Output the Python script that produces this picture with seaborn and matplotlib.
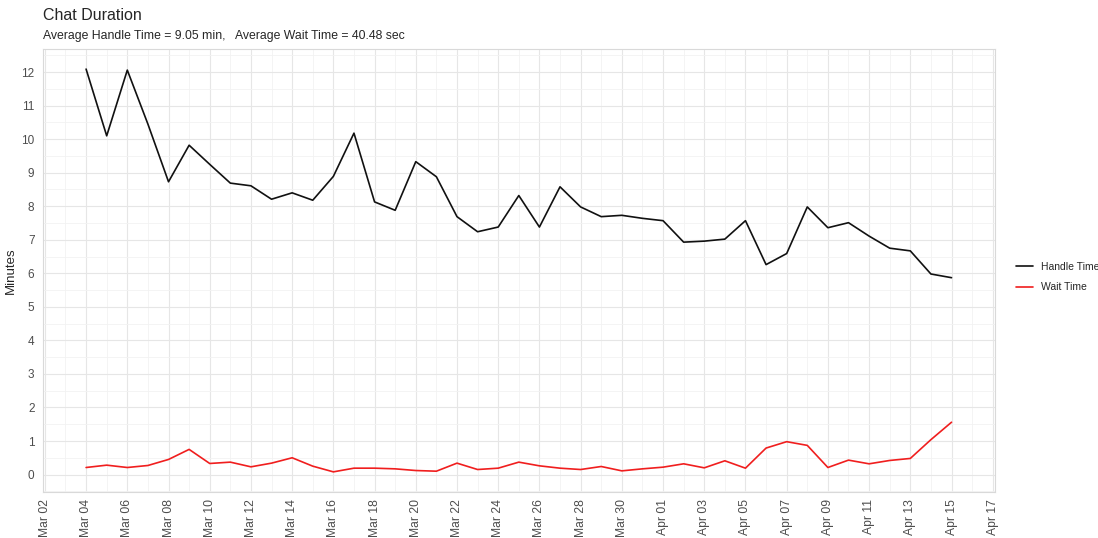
import numpy as np
import pandas as pd
import matplotlib
matplotlib.use("Agg")
import matplotlib.pyplot as plt
import matplotlib.dates as mdates
import seaborn as sns

# daily values, Mar 04 .. Apr 15
dates = pd.date_range("2019-03-04", "2019-04-15", freq="D")

handle_time = [12.09, 10.10, 12.06, 10.45, 8.73, 9.82, 9.25, 8.69, 8.61, 8.21,
               8.40, 8.18, 8.89, 10.18, 8.13, 7.88, 9.33, 8.88, 7.69, 7.24,
               7.38, 8.32, 7.38, 8.58, 7.98, 7.69, 7.73, 7.64, 7.57, 6.93,
               6.96, 7.02, 7.57, 6.26, 6.59, 7.98, 7.36, 7.51, 7.11, 6.75,
               6.67, 5.98, 5.87]

wait_time = [0.21, 0.28, 0.21, 0.27, 0.45, 0.75, 0.33, 0.37, 0.23, 0.34,
             0.50, 0.25, 0.08, 0.19, 0.19, 0.17, 0.12, 0.10, 0.34, 0.15,
             0.19, 0.37, 0.26, 0.19, 0.15, 0.24, 0.11, 0.17, 0.22, 0.32,
             0.20, 0.41, 0.19, 0.79, 0.98, 0.87, 0.21, 0.43, 0.32, 0.42,
             0.48, 1.04, 1.56]

series_names = ["Handle Time", "Wait Time"]
series_colors = ["#111111", "#F01E1E"]

df = pd.DataFrame({"date": dates, "Handle Time": handle_time, "Wait Time": wait_time})
long = df.melt(id_vars="date", var_name="metric", value_name="minutes")

sns.set_style("white")
plt.rcParams["font.family"] = ["Liberation Sans", "DejaVu Sans"]

fig = plt.figure(figsize=(10.98, 5.38), dpi=100)
ax = fig.add_axes([0.039, 0.0855, 0.867, 0.8235])

sns.lineplot(data=long, x="date", y="minutes", hue="metric",
             palette=dict(zip(series_names, series_colors)),
             linewidth=1.2, ax=ax, legend=False)

# ggplot-like expansion of 5%
span = dates[-1] - dates[0]
ax.set_xlim(dates[0] - span * 0.05, dates[-1] + span * 0.05)
ymin, ymax = min(wait_time), max(handle_time)
ax.set_ylim(ymin - (ymax - ymin) * 0.05, ymax + (ymax - ymin) * 0.05)

# breaks every 2 days, minor lines in between
ax.set_xticks(pd.date_range("2019-03-02", "2019-04-17", freq="2D"))
ax.set_xticks(pd.date_range("2019-03-03", "2019-04-16", freq="2D"), minor=True)
ax.xaxis.set_major_formatter(mdates.DateFormatter("%b %d"))
ax.set_yticks(np.arange(0, 13, 1))
ax.set_yticks(np.arange(-0.5, 13, 1), minor=True)

ax.grid(True, which="major", color="#E6E6E6", linewidth=0.8)
ax.grid(True, which="minor", color="#F2F2F2", linewidth=0.6)
ax.set_axisbelow(True)
for s in ax.spines.values():
    s.set_color("#D9D9D9")
    s.set_linewidth(0.8)

ax.tick_params(axis="x", which="major", rotation=90, labelsize=8.7, labelcolor="#4D4D4D",
               length=3, color="#D9D9D9", pad=2)
ax.tick_params(axis="y", which="major", labelsize=8.5, labelcolor="#4D4D4D",
               length=3, color="#D9D9D9", pad=3)
ax.tick_params(which="minor", length=0)

ax.set_xlabel("")
ax.set_ylabel("Minutes", fontsize=9.5, labelpad=3)

fig.text(0.039, 0.963, "Chat Duration", fontsize=11.5, ha="left", va="baseline")
fig.text(0.039, 0.928, "Average Handle Time = 9.05 min,   Average Wait Time = 40.48 sec",
         fontsize=8.8, ha="left", va="baseline")

handles = [plt.Line2D([], [], color=c, linewidth=1.2) for c in series_colors]
fig.legend(handles, series_names, loc="center left", bbox_to_anchor=(0.917, 0.485),
           frameon=False, fontsize=7.5, handlelength=1.6, handletextpad=0.8,
           labelspacing=1.0)

fig.savefig("out.png", dpi=100)
